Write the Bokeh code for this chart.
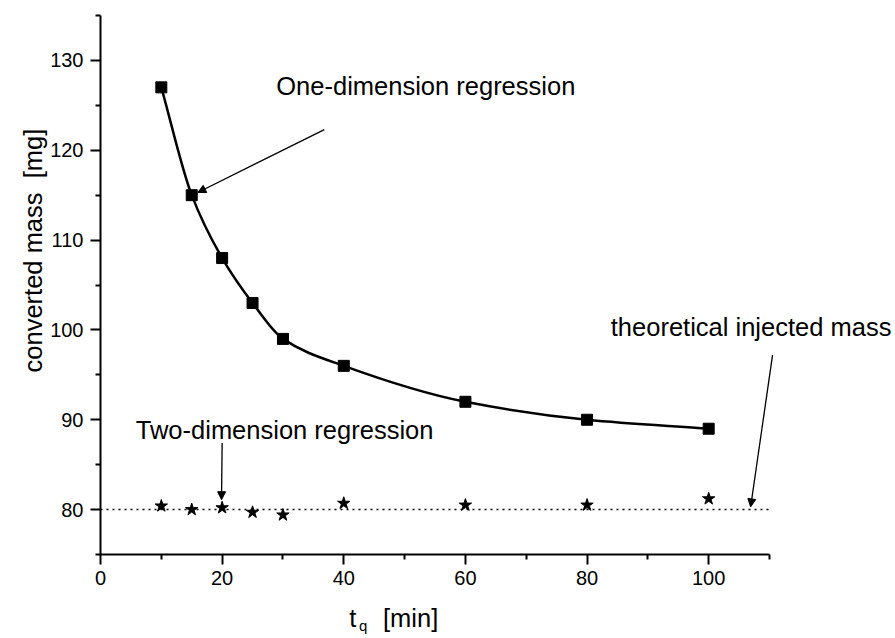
import math
from bokeh.plotting import figure
from bokeh.models import FixedTicker, Label, Arrow, NormalHead, LinearAxis
from bokeh.embed import file_html
from bokeh.resources import INLINE

# data
t_q = [10, 15, 20, 25, 30, 40, 60, 80, 100]
one_dim_mass = [127, 115, 108, 103, 99, 96, 92, 90, 89]
two_dim_mass = [80.4, 80.0, 80.2, 79.7, 79.4, 80.7, 80.5, 80.5, 81.2]
theoretical_mass = 80
x_ticks = [0, 20, 40, 60, 80, 100]
x_minor = [10, 30, 50, 70, 90, 110]
y_ticks = [80, 90, 100, 110, 120, 130]
y_minor = [75, 85, 95, 105, 115, 125, 135]
x_axis_end = 110

FONT = "Liberation Sans"
PX_PER_UNIT = 669 / 110.0
x_view_end = (895 - 100) / PX_PER_UNIT

p = figure(width=895, height=638, x_range=(0, x_view_end), y_range=(75, 135),
           output_backend="svg", toolbar_location=None,
           min_border_left=100, min_border_right=0,
           min_border_top=15, min_border_bottom=84)
p.outline_line_color = None
p.grid.visible = False
p.background_fill_color = "white"
p.xaxis.bounds = (0, x_axis_end)

for ax, tk, mn in ((p.xaxis[0], x_ticks, x_minor), (p.yaxis[0], y_ticks, y_minor)):
    ax.ticker = FixedTicker(ticks=tk, minor_ticks=mn)
    ax.axis_line_width = 2
    ax.major_tick_line_width = 2
    ax.minor_tick_line_width = 2
    ax.major_tick_out = 10
    ax.major_tick_in = 0
    ax.minor_tick_out = 5
    ax.minor_tick_in = 0
    ax.major_label_text_font = FONT
    ax.major_label_text_font_size = "20px"
    ax.major_label_text_color = "black"
    ax.axis_line_color = "black"
    ax.major_tick_line_color = "black"
    ax.minor_tick_line_color = "black"

p.xaxis.major_label_standoff = 6
p.yaxis.major_label_standoff = 7


def bare_axis(ticks, labels, size, standoff, **kw):
    ax = LinearAxis(ticker=FixedTicker(ticks=ticks, minor_ticks=[]),
                    major_label_overrides=labels, **kw)
    ax.axis_line_color = None
    ax.major_tick_line_color = None
    ax.minor_tick_line_color = None
    ax.major_tick_out = 0
    ax.major_tick_in = 0
    ax.minor_tick_out = 0
    ax.major_label_standoff = standoff
    ax.major_label_text_font = FONT
    ax.major_label_text_font_size = size
    ax.major_label_text_color = "black"
    return ax


# y-axis title placed as a rotated label on a label-only axis (anchored at its end)
y_title_end = 122.4
p.add_layout(bare_axis([y_title_end], {y_title_end: "converted mass\u00a0\u00a0[mg]"}, "25.5px", 14,
                       major_label_orientation=math.pi / 2), "left")

# x-axis title "t_q  [min]" built from two label-only axes
p.add_layout(bare_axis([41.5, 51.0], {41.5: "t", 51.0: "[min]"}, "25.5px", 16), "below")
p.add_layout(bare_axis([43.2], {43.2: "q"}, "15px", -18), "below")

# theoretical line
p.line([0, x_axis_end], [theoretical_mass, theoretical_mass], line_color="black",
       line_width=1.5, line_dash="2 4")

# one-dimension smooth curve (monotone cubic through the measured points)
n = len(t_q)
d = [(one_dim_mass[i + 1] - one_dim_mass[i]) / (t_q[i + 1] - t_q[i]) for i in range(n - 1)]
m = [d[0]] + [0.0] * (n - 2) + [d[-1]]
for i in range(1, n - 1):
    h0, h1 = t_q[i] - t_q[i - 1], t_q[i + 1] - t_q[i]
    w1, w2 = 2 * h1 + h0, h1 + 2 * h0
    m[i] = (w1 + w2) / (w1 / d[i - 1] + w2 / d[i])
x0 = t_q[:-1]; x1 = t_q[1:]; y0 = one_dim_mass[:-1]; y1 = one_dim_mass[1:]
cx0 = [x0[i] + (x1[i] - x0[i]) / 3 for i in range(n - 1)]
cy0 = [y0[i] + m[i] * (x1[i] - x0[i]) / 3 for i in range(n - 1)]
cx1 = [x1[i] - (x1[i] - x0[i]) / 3 for i in range(n - 1)]
cy1 = [y1[i] - m[i + 1] * (x1[i] - x0[i]) / 3 for i in range(n - 1)]
p.bezier(x0=x0, y0=y0, x1=x1, y1=y1, cx0=cx0, cy0=cy0, cx1=cx1, cy1=cy1,
         line_color="black", line_width=2.5)
p.scatter(t_q, one_dim_mass, marker="square", size=11, color="black")

# two-dimension stars
p.scatter(t_q, two_dim_mass, marker="star", size=13, color="black")

# annotations
def lab(x, y, txt):
    p.add_layout(Label(x=x, y=y, text=txt, text_font=FONT, text_font_size="25.5px",
                       text_color="black", text_baseline="alphabetic"))

lab(28.9, 127.2, "One-dimension regression")
lab(5.8, 88.9, "Two-dimension regression")
lab(83.9, 100.3, "theoretical injected mass")

head = dict(size=8, fill_color="black", line_color="black")
p.add_layout(Arrow(end=NormalHead(**head), x_start=36.8, y_start=122.3,
                   x_end=16.0, y_end=115.3, line_width=1.3))
p.add_layout(Arrow(end=NormalHead(**head), x_start=20.0, y_start=87.4,
                   x_end=19.9, y_end=81.1, line_width=1.3))
p.add_layout(Arrow(end=NormalHead(**head), x_start=110.5, y_start=97.2,
                   x_end=106.9, y_end=80.3, line_width=1.3))

open("out.html", "w").write(file_html(p, INLINE))
